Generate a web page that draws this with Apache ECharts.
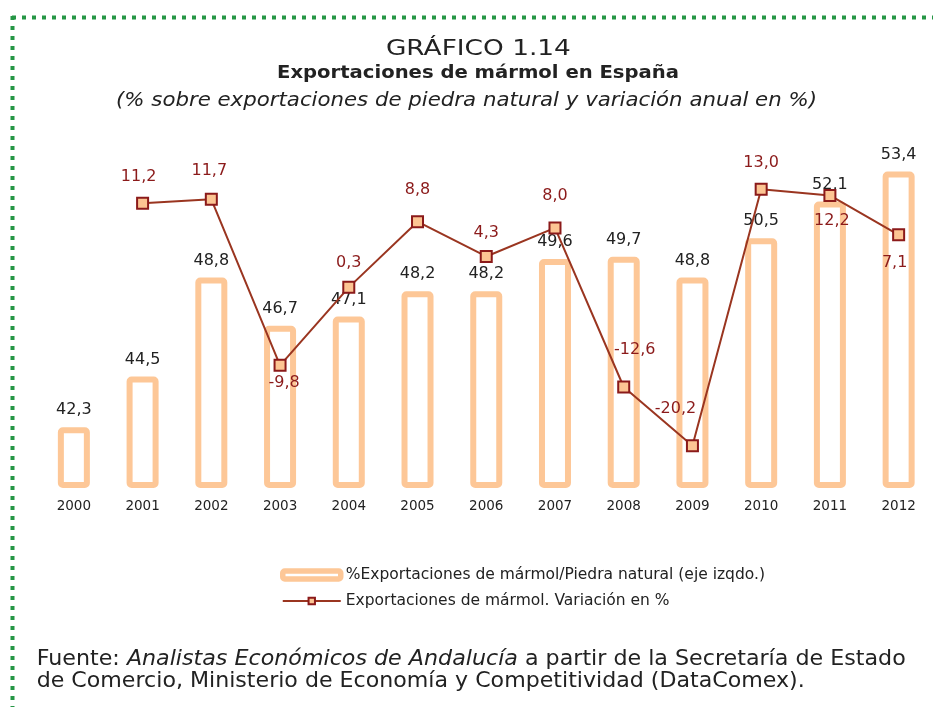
<!DOCTYPE html>
<html>
<head>
<meta charset="utf-8">
<script src="https://cdn.jsdelivr.net/npm/echarts@6/dist/echarts.min.js"></script>
<style>
html,body{margin:0;padding:0;background:#fff;}
#chart{width:933px;height:707px;}
</style>
</head>
<body>
<div id="chart"></div>
<script>
const years = ['2000','2001','2002','2003','2004','2005','2006','2007','2008','2009','2010','2011','2012'];
const sharePct = [42.3, 44.5, 48.8, 46.7, 47.1, 48.2, 48.2, 49.6, 49.7, 48.8, 50.5, 52.1, 53.4];
const variationPct = [null, 11.2, 11.7, -9.8, 0.3, 8.8, 4.3, 8.0, -12.6, -20.2, 13.0, 12.2, 7.1];
// label offsets (layout only) for the variation labels, relative to the marker
const varLabelOffset = [null, [-4,-26], [-2,-28], [4,17], [0,-25], [0,-32], [0,-24], [0,-32], [11,-37], [-17,-37], [0,-26], [2,25], [-4,28]];

const seriesNames = ['%Exportaciones de mármol/Piedra natural (eje izqdo.)', 'Exportaciones de mármol. Variación en %'];
const fmt = v => v.toFixed(1).replace('.', ',');

const FONT = "'DejaVu Sans', 'Liberation Sans', sans-serif";
const ink = '#222';

// text fitting helper (layout only)
const mctx = document.createElement('canvas').getContext('2d');
function textW(text, font) { mctx.font = font; return mctx.measureText(text).width; }

function centeredText(text, font, cx, cy, width) {
  const s = width / textW(text, font);
  return { type: 'text', x: cx, y: cy, scaleX: s,
    style: { text: text, font: font, fill: ink, align: 'center', verticalAlign: 'middle' } };
}

const fN = "20.5px " + FONT, fI = "italic 20.5px " + FONT;
const seg = [['Fuente: ', fN], ['Analistas Económicos de Andalucía', fI], [' a partir de la Secretaría de Estado', fN]];
let acc = 0;
const segChildren = seg.map(([t, f]) => {
  const el = { type: 'text', x: acc, y: 0, style: { text: t, font: f, fill: ink, align: 'left', verticalAlign: 'middle' } };
  acc += textW(t, f);
  return el;
});
const line1Scale = 869 / acc;
const line2Text = 'de Comercio, Ministerio de Economía y Competitividad (DataComex).';
const line2Scale = 768 / textW(line2Text, fN);

const lineData = variationPct.map((v, i) => v == null ? null : {
  value: v,
  label: { position: 'inside', offset: varLabelOffset[i] }
});

const chart = echarts.init(document.getElementById('chart'), null, {renderer: 'canvas'});
chart.setOption({
  backgroundColor: '#ffffff',
  animation: false,
  textStyle: { fontFamily: FONT },
  grid: { left: 39.5, width: 898, top: 116, height: 369 },
  xAxis: {
    type: 'category',
    data: years,
    axisLine: { show: false },
    axisTick: { show: false },
    axisLabel: { color: ink, fontSize: 13.5, margin: 14, fontFamily: FONT }
  },
  yAxis: [
    { type: 'value', min: 39.79, max: 55.81, show: false },
    { type: 'value', min: -25.29, max: 22.49, show: false }
  ],
  legend: {
    orient: 'vertical',
    left: 280,
    top: 567,
    padding: 0,
    itemWidth: 58,
    itemHeight: 8,
    itemGap: 10,
    textStyle: { color: ink, fontSize: 15.5, fontFamily: FONT },
    data: [
      { name: seriesNames[0], itemStyle: { color: '#ffffff', borderColor: '#FDC797', borderWidth: 5.5 } },
      { name: seriesNames[1] }
    ]
  },
  series: [
    {
      name: seriesNames[0],
      type: 'bar',
      data: sharePct,
      barWidth: 32,
      itemStyle: { color: '#ffffff', borderColor: '#FDC797', borderWidth: 6, borderRadius: 2 },
      label: {
        show: true, position: 'top', distance: 9,
        color: ink, fontSize: 16, fontFamily: FONT,
        formatter: p => fmt(p.value)
      }
    },
    {
      name: seriesNames[1],
      type: 'line',
      yAxisIndex: 1,
      data: lineData,
      symbol: 'rect',
      symbolSize: 11,
      lineStyle: { color: '#9A3520', width: 2 },
      itemStyle: { color: '#FCC593', borderColor: '#8B1A1A', borderWidth: 2 },
      label: {
        show: true, color: '#8B1A1A', fontSize: 16, fontFamily: FONT,
        formatter: p => fmt(p.value)
      },
      z: 3
    }
  ],
  graphic: [
    { type: 'line', shape: { x1: 12, y1: 17.5, x2: 933, y2: 17.5 }, style: { stroke: '#259645', lineWidth: 4, lineDash: [4, 6] } },
    { type: 'line', shape: { x1: 12.5, y1: 16, x2: 12.5, y2: 707 }, style: { stroke: '#259645', lineWidth: 4, lineDash: [4, 6] } },
    centeredText('GRÁFICO 1.14', "21px " + FONT, 478.4, 50, 185),
    centeredText('Exportaciones de mármol en España', "bold 18px " + FONT, 478, 73.5, 402),
    centeredText('(% sobre exportaciones de piedra natural y variación anual en %)', "italic 20px " + FONT, 466.5, 101, 701),
    { type: 'group', x: 36.7, y: 659.5, scaleX: line1Scale, children: segChildren },
    { type: 'text', x: 36.7, y: 682, scaleX: line2Scale,
      style: { text: line2Text, font: fN, fill: ink, align: 'left', verticalAlign: 'middle' } }
  ]
});
</script>
</body>
</html>
